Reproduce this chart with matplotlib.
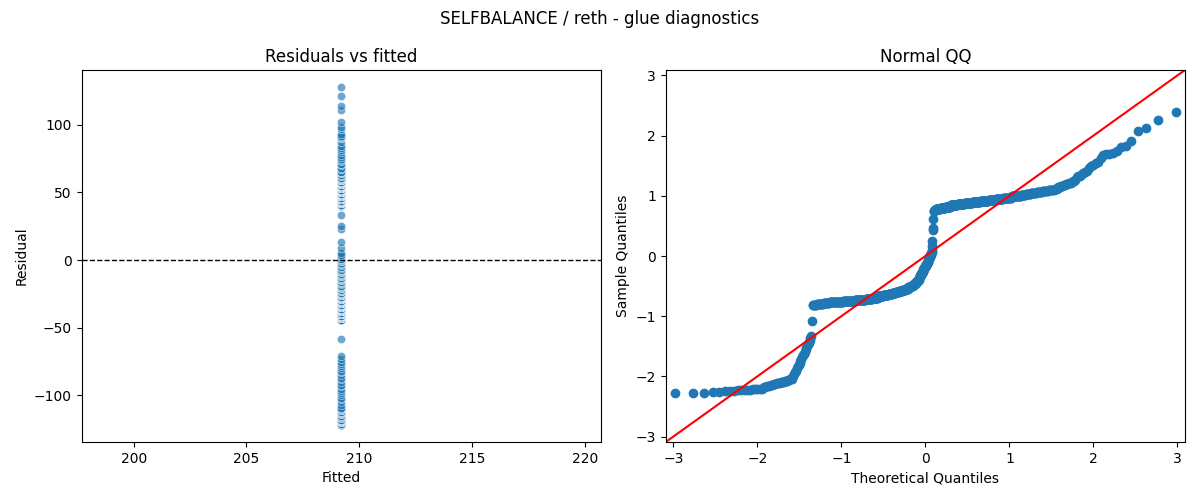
import numpy as np
import matplotlib
matplotlib.use("Agg")
import matplotlib.pyplot as plt
import seaborn as sns
from statistics import NormalDist

# ---- data ----
fitted_value = 209.2   # every observation has the same fitted value

# distinct residual values and how many observations share each one
resid_values = [
    -122, -121, -120, -119, -118,
    -117, -116, -115, -114, -113, -112, -111, -110, -109,
    -107, -105, -103, -102, -100, -98, -97, -95, -93, -92, -90,
    -88, -87, -85, -83, -82, -80, -78, -77, -75, -73, -71,
    -58,
    -44, -43, -42, -41, -40, -39, -38, -37, -36, -35, -34, -33, -32, -31,
    -30, -29, -28, -27,
    -26, -25, -24, -23, -22, -21, -20, -19, -18,
    -17, -16, -15, -14, -13, -12, -11, -10, -9, -8, -7,
    -6, -5, -4, -3, -2, -1, 0, 1, 2, 3, 4, 5,
    9, 13, 23, 25, 33,
    40, 41,
    42, 43, 44, 45, 46, 47, 48, 49, 50, 51, 52, 53,
    54, 55, 56, 57, 58, 59,
    60, 61, 62, 63, 64, 65,
    67, 68, 70, 71, 73, 74, 75, 76,
    78, 80, 81, 83, 84, 87, 90,
    91, 92, 93, 97, 98, 102, 111, 114, 121, 128,
]
resid_counts = [
    3, 2, 3, 5, 5,
    2, 2, 2, 2, 3, 3, 3, 2, 2,
    1, 1, 1, 1, 1, 1, 1, 1, 1, 1, 1,
    1, 1, 1, 1, 1, 1, 1, 1, 1, 1, 1,
    1,
    6, 10, 10, 26, 26, 26, 18, 16, 15, 15, 12, 11, 11, 10,
    10, 9, 8, 7,
    4, 4, 3, 3, 3, 3, 2, 2, 1,
    2, 2, 2, 2, 2, 2, 2, 2, 2, 2, 3,
    1, 2, 1, 2, 1, 2, 1, 2, 1, 1, 1, 1,
    1, 1, 1, 1, 1,
    3, 4,
    15, 16, 17, 22, 22, 22, 22, 22, 17, 17, 17, 18,
    8, 8, 8, 8, 7, 7,
    3, 3, 2, 2, 2, 3,
    2, 1, 1, 2, 1, 1, 1, 1,
    1, 1, 1, 1, 1, 1, 1,
    2, 1, 1, 1, 1, 1, 1, 1, 1, 1,
]

suptitle = "SELFBALANCE / reth - glue diagnostics"

# ---- derived series ----
resid = np.repeat(np.array(resid_values, dtype=float), resid_counts)
n = resid.size
fitted = np.full(n, fitted_value)

# Normal QQ of the scaled residuals (plotting positions i/(n+1))
sample_q = np.sort(resid / resid.std())
nd = NormalDist()
theo_q = np.array([nd.inv_cdf(i / (n + 1)) for i in range(1, n + 1)])

# ---- figure ----
fig, (ax1, ax2) = plt.subplots(1, 2, figsize=(12, 5), dpi=100)
fig.subplots_adjust(left=0.068, right=0.9875, bottom=0.116, top=0.86, wspace=0.125)
fig.suptitle(suptitle, fontsize=12)

sns.scatterplot(x=fitted, y=resid, ax=ax1, alpha=0.65, color="#1f77b4")
ax1.axhline(0, color="black", linestyle="--", linewidth=1)
ax1.set_title("Residuals vs fitted")
ax1.set_xlabel("Fitted")
ax1.set_ylabel("Residual")

ax2.plot(theo_q, sample_q, marker="o", linestyle="none", color="#1f77b4",
         markersize=6)
lim = (-3.09, 3.09)
ax2.set_xlim(lim)
ax2.set_ylim(lim)
ax2.axline((0, 0), slope=1, color="red", linewidth=1.5)
ax2.set_title("Normal QQ")
ax2.set_xlabel("Theoretical Quantiles")
ax2.set_ylabel("Sample Quantiles")

fig.savefig("out.png", dpi=100)
